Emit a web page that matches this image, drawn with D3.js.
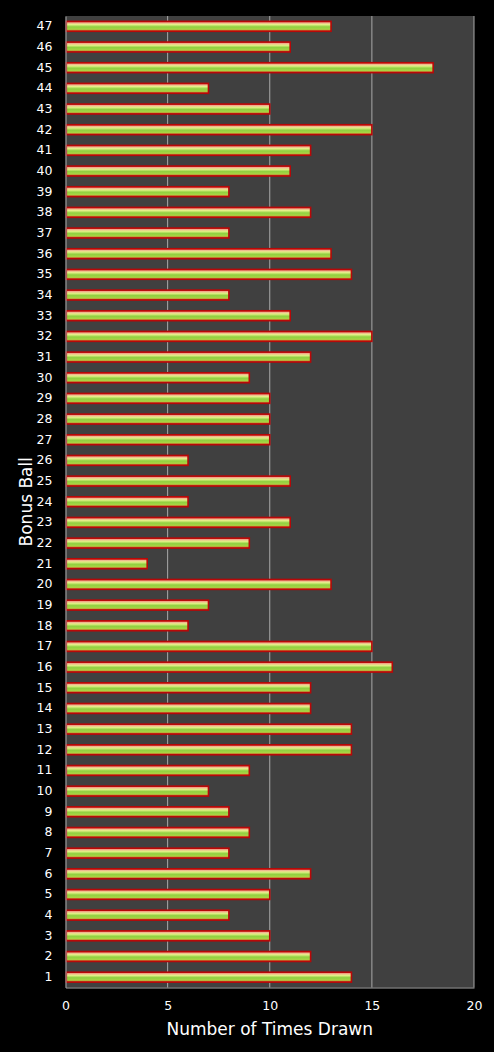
<!DOCTYPE html>
<html><head><meta charset="utf-8">
<script src="https://cdn.jsdelivr.net/npm/d3@7/dist/d3.min.js"></script>
<style>html,body{margin:0;padding:0;background:#000;}svg{display:block;}</style>
</head><body>
<script>
const balls = d3.range(1, 48).map(String);
const timesDrawn = [14,12,10,8,10,12,8,9,8,7,9,14,14,12,12,16,15,6,7,13,4,9,11,6,11,6,10,10,10,9,12,15,11,8,14,13,8,12,8,11,12,15,10,7,18,11,13];
const xTicks = [0,5,10,15,20];

const W = 494, H = 1052;
const m = {left: 65.5, right: 20, top: 16, bottom: 64.5};
const font = "DejaVu Sans, Verdana, sans-serif";
const svg = d3.select("body").append("svg").attr("width", W).attr("height", H);
svg.append("rect").attr("width", W).attr("height", H).attr("fill", "#000");

const x = d3.scaleLinear().domain([0, 20]).range([m.left, W - m.right]);
const y = d3.scaleBand().domain(balls.slice().reverse()).range([m.top, H - m.bottom]).paddingInner(0.52).paddingOuter(0.26);

const defs = svg.append("defs");
const g = defs.append("linearGradient").attr("id", "bg").attr("x1", 0).attr("y1", 0).attr("x2", 0).attr("y2", 1);
[[0,"#e83828"],[0.15,"#f0b090"],[0.32,"#e4f088"],[0.55,"#90d040"],[0.8,"#a8d444"],[1,"#e03020"]].forEach(s=>g.append("stop").attr("offset", s[0]).attr("stop-color", s[1]));

svg.append("rect").attr("x", m.left).attr("y", m.top).attr("width", x(20) - m.left).attr("height", H - m.bottom - m.top).attr("fill", "#404040");

svg.append("g").selectAll("line").data(xTicks.slice(1)).join("line")
  .attr("x1", d => x(d)).attr("x2", d => x(d)).attr("y1", m.top).attr("y2", H - m.bottom)
  .attr("stroke", "#a8a8a8").attr("stroke-width", 1);

svg.append("g").selectAll("rect").data(balls).join("rect")
  .attr("x", x(0) + 0.8).attr("y", d => y(d))
  .attr("width", (d, i) => x(timesDrawn[i]) - x(0) - 0.8).attr("height", y.bandwidth())
  .attr("fill", "url(#bg)").attr("stroke", "#b80808").attr("stroke-width", 1.6);

// axes
const xa = svg.append("g").attr("transform", `translate(0,${H - m.bottom})`)
  .call(d3.axisBottom(x).tickValues(xTicks).tickSize(0).tickPadding(14));
xa.select(".domain").attr("stroke", "#a8a8a8");
xa.selectAll("text").attr("fill", "#fff").attr("font-family", font).attr("font-size", 12.5);

const ya = svg.append("g").attr("transform", `translate(${m.left},0)`)
  .call(d3.axisLeft(y).tickSize(0).tickPadding(13));
ya.select(".domain").attr("stroke", "#a8a8a8");
ya.selectAll("text").attr("fill", "#fff").attr("font-family", font).attr("font-size", 12.5);

svg.append("text").attr("x", (m.left + x(20)) / 2).attr("y", 1035).attr("text-anchor", "middle")
  .attr("fill", "#fff").attr("font-family", font).attr("font-size", 17).text("Number of Times Drawn");
svg.append("text").attr("transform", `translate(32,${(m.top + H - m.bottom) / 2}) rotate(-90)`).attr("text-anchor", "middle")
  .attr("fill", "#fff").attr("font-family", font).attr("font-size", 17).text("Bonus Ball");
</script>
</body></html>
